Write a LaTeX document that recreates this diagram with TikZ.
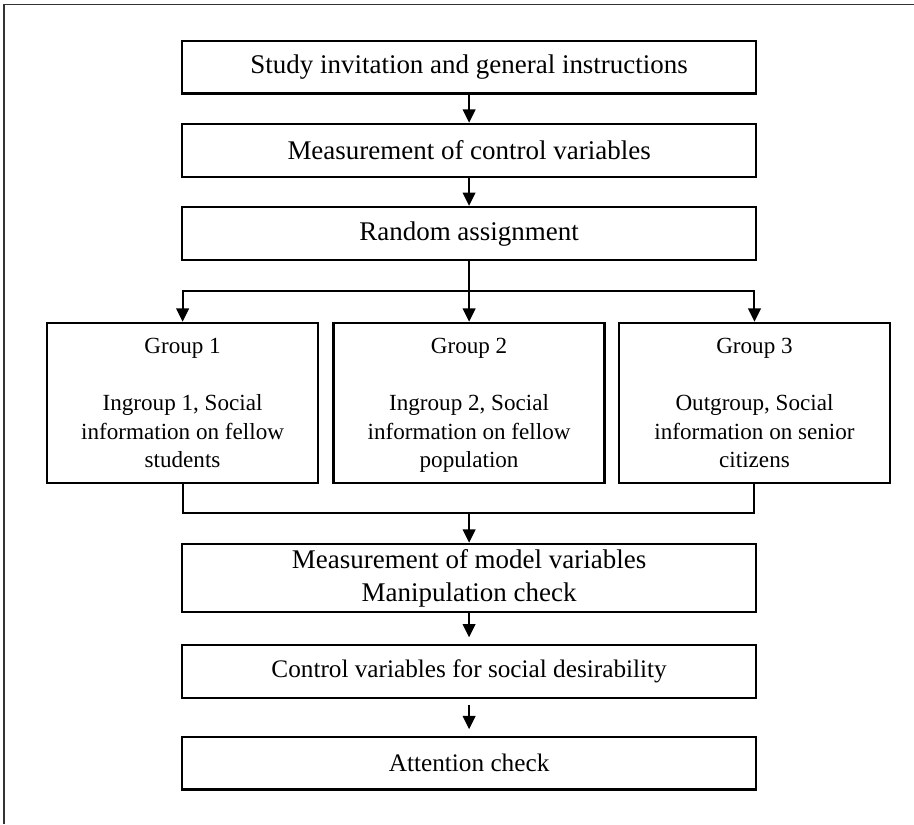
\documentclass[tikz,border=0pt]{standalone}
\usepackage{fontspec}
\setmainfont{Liberation Serif}
\usetikzlibrary{arrows.meta,positioning,calc}

\begin{document}
\begin{tikzpicture}[>={Triangle[width=9.5pt,length=10pt]}, line join=miter,
  stepbox/.style={draw, line width=1.9pt, align=center, inner sep=0pt,
    font=\fontsize{20.3}{24.8}\selectfont},
  groupbox/.style={draw, line width=1.9pt, align=center, inner sep=0pt,
    minimum width=7.17cm, minimum height=4.23cm,
    font=\fontsize{17.4}{21.4}\selectfont},
  flow/.style={line width=1.5pt}]

\useasboundingbox (0,0) rectangle (24.18,21.80);
\draw[line width=1pt, black!80] (0.11,0) -- (0.11,21.68) -- (24.18,21.68);

\node[stepbox, minimum width=15.19cm, minimum height=1.40cm] (invite) at (12.41,20.02) {Study invitation and general instructions};
\node[stepbox, minimum width=15.19cm, minimum height=1.40cm] (ctrl) at (12.41,17.82) {Measurement of control variables};
\node[stepbox, minimum width=15.19cm, minimum height=1.40cm] (assign) at (12.41,15.62) {Random assignment};

\node[groupbox] (grp1) at (4.83,11.14) {Group 1\\[21.4pt]Ingroup 1, Social\\information on fellow\\\smash{students}};
\node[groupbox] (grp2) at (12.41,11.14) {Group 2\\[21.4pt]Ingroup 2, Social\\information on fellow\\\smash{population}};
\node[groupbox] (grp3) at (19.96,11.14) {Group 3\\[21.4pt]Outgroup, Social\\information on senior\\\smash{citizens}};

\node[stepbox, minimum width=15.19cm, minimum height=1.80cm] (model) at (12.41,6.51) {Measurement of model variables\\Manipulation check};
\node[stepbox, minimum width=15.19cm, minimum height=1.40cm, font=\fontsize{19}{23}\selectfont] (desir) at (12.41,4.03) {Control variables for social desirability};
\node[stepbox, minimum width=15.19cm, minimum height=1.38cm, font=\fontsize{19}{23}\selectfont] (attn) at (12.41,1.61) {Attention check};

\coordinate (split) at (12.41,14.10);
\coordinate (merge) at (12.41,8.23);

\draw[flow, ->] (invite) -- (ctrl);
\draw[flow, ->] (ctrl) -- (assign);
\draw[flow] (assign) -- (split);
\draw[flow, ->] (split) -| (grp1);
\draw[flow, ->] (split) -- (grp2);
\draw[flow, ->] (split) -| (grp3);
\draw[flow] (grp1) |- (merge);
\draw[flow] (grp3) |- (merge);
\draw[flow, ->] (merge) -- (model);
\draw[flow, ->, shorten >=5pt] (model) -- (desir);
\draw[flow, ->, shorten <=4pt, shorten >=5pt] (desir) -- (attn);

\end{tikzpicture}
\end{document}
